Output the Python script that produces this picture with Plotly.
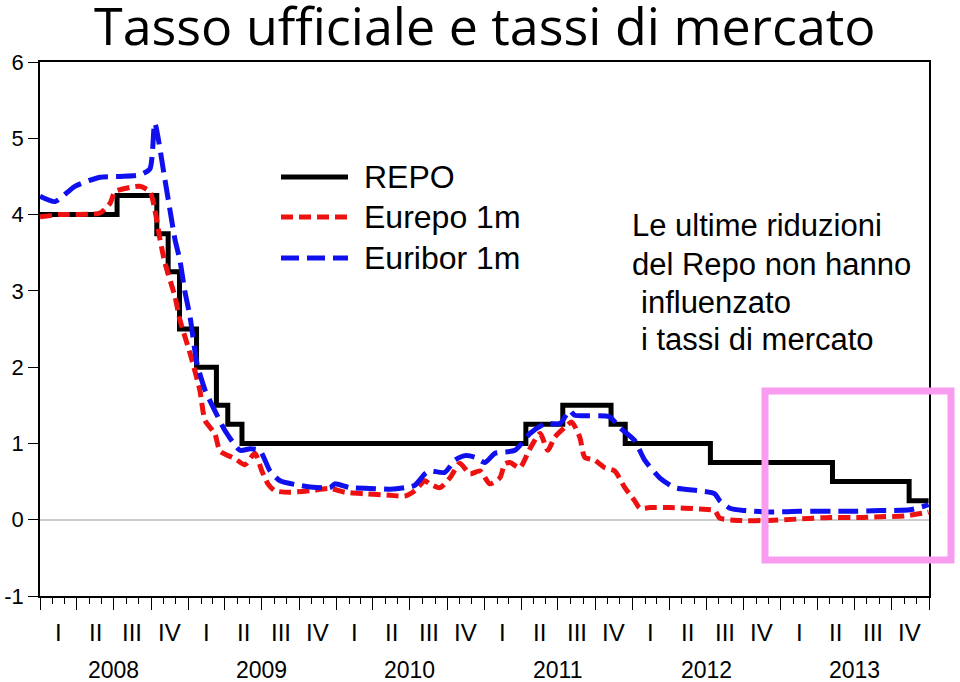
import plotly.graph_objects as go

# REPO (BCE main refinancing rate), change dates
repo_dates = ['2008-01-01', '2008-07-09', '2008-10-15', '2008-11-12', '2008-12-10',
              '2009-01-21', '2009-03-11', '2009-04-08', '2009-05-13', '2011-04-13',
              '2011-07-13', '2011-11-09', '2011-12-14', '2012-07-11', '2013-05-08',
              '2013-11-13', '2013-12-31']
repo_vals = [4.00, 4.25, 3.75, 3.25, 2.50, 2.00, 1.50, 1.25, 1.00, 1.25,
             1.50, 1.25, 1.00, 0.75, 0.50, 0.25, 0.25]

# Eurepo 1m
eurepo_dates = ['2008-01-01', '2008-02-19', '2008-05-28', '2008-06-22', '2008-07-04',
                '2008-09-03', '2008-09-28', '2008-10-10', '2008-10-23', '2008-11-04',
                '2008-11-29', '2008-12-11', '2009-01-05', '2009-01-29', '2009-02-11',
                '2009-03-07', '2009-03-20', '2009-04-26', '2009-05-20', '2009-06-14',
                '2009-07-01', '2009-07-16', '2009-08-02', '2009-09-08', '2009-10-28',
                '2009-12-16', '2010-01-22', '2010-03-12', '2010-05-13', '2010-06-19',
                '2010-07-13', '2010-08-07', '2010-08-19', '2010-09-13', '2010-10-08',
                '2010-11-01', '2010-11-26', '2010-12-21', '2011-01-14', '2011-02-08',
                '2011-02-20', '2011-03-05', '2011-03-29', '2011-04-23', '2011-05-18',
                '2011-06-06', '2011-06-23', '2011-07-18', '2011-08-04', '2011-08-24',
                '2011-09-05', '2011-09-30', '2011-10-25', '2011-11-18', '2011-12-13',
                '2012-01-06', '2012-01-19', '2012-02-13', '2012-04-02', '2012-06-15',
                '2012-07-22', '2012-08-03', '2012-09-22', '2012-12-04', '2013-02-16',
                '2013-05-01', '2013-07-15', '2013-09-02', '2013-11-02', '2013-12-22',
                '2013-12-31']
eurepo_vals = [3.97, 4.00, 4.02, 4.15, 4.30,
               4.37, 4.30, 4.07, 3.67, 3.37,
               2.92, 2.62, 2.18, 1.70, 1.30,
               1.13, 0.90, 0.80, 0.72, 0.87,
               0.64, 0.47, 0.38, 0.36, 0.38,
               0.41, 0.36, 0.34, 0.32, 0.31,
               0.38, 0.51, 0.47, 0.42, 0.55,
               0.74, 0.60, 0.64, 0.47, 0.55,
               0.73, 0.75, 0.68, 0.93, 1.13,
               0.91, 1.08, 1.21, 1.28, 1.08,
               0.82, 0.78, 0.68, 0.64, 0.42,
               0.25, 0.15, 0.16, 0.16, 0.14,
               0.12, 0.02, -0.01, -0.01, 0.01,
               0.03, 0.03, 0.04, 0.05, 0.09,
               0.10]

# Euribor 1m
euribor_dates = ['2008-01-01', '2008-02-07', '2008-03-27', '2008-05-28', '2008-07-16',
                 '2008-09-03', '2008-09-28', '2008-10-10', '2008-11-04', '2008-11-29',
                 '2008-12-11', '2008-12-23', '2009-01-05', '2009-01-22', '2009-02-11',
                 '2009-03-07', '2009-04-01', '2009-05-08', '2009-06-02', '2009-06-26',
                 '2009-07-21', '2009-08-15', '2009-10-03', '2009-10-28', '2009-12-16',
                 '2009-12-28', '2010-02-03', '2010-03-24', '2010-05-13', '2010-06-19',
                 '2010-07-13', '2010-08-07', '2010-08-19', '2010-09-25', '2010-10-20',
                 '2010-11-14', '2010-12-08', '2011-01-02', '2011-01-27', '2011-03-17',
                 '2011-04-23', '2011-05-30', '2011-07-06', '2011-07-30', '2011-08-11',
                 '2011-11-05', '2011-11-30', '2012-01-06', '2012-01-31', '2012-03-08',
                 '2012-04-14', '2012-06-15', '2012-07-22', '2012-08-03', '2012-08-28',
                 '2012-10-04', '2012-12-04', '2013-02-16', '2013-06-20', '2013-09-02',
                 '2013-11-15', '2013-12-22', '2013-12-31']
euribor_vals = [4.24, 4.17, 4.37, 4.49, 4.50,
                4.52, 4.60, 5.20, 4.46, 3.67,
                3.40, 3.00, 2.66, 2.05, 1.70,
                1.43, 1.17, 0.91, 0.93, 0.91,
                0.64, 0.51, 0.45, 0.43, 0.42,
                0.47, 0.42, 0.41, 0.40, 0.42,
                0.45, 0.60, 0.64, 0.62, 0.78,
                0.84, 0.82, 0.75, 0.87, 0.91,
                1.13, 1.26, 1.26, 1.43, 1.37,
                1.35, 1.21, 1.04, 0.78, 0.55,
                0.42, 0.38, 0.34, 0.25, 0.15,
                0.12, 0.10, 0.11, 0.11, 0.12,
                0.13, 0.18, 0.20]

years = [2008, 2009, 2010, 2011, 2012, 2013]
quarter_labels = ['I', 'II', 'III', 'IV']
quarter_starts = ['01', '04', '07', '10']
quarter_mids = ['02-15', '05-16', '08-16', '11-15']

y_ticks = [-1, 0, 1, 2, 3, 4, 5, 6]
y_ticktext = ['-1', '0', '1', '2', '3', '4', '5', '6']

legend_names = ['REPO', 'Eurepo 1m', 'Euribor 1m']
note_lines = ['Le ultime riduzioni', 'del Repo non hanno', 'influenzato', 'i tassi di mercato']

FONT = 'Liberation Sans, Arial, sans-serif'

# plot area in pixels: x 40..929, y 62..596
def px(x):
    return (x - 40) / 889.0

def py(y):
    return (596 - y) / 534.0

fig = go.Figure()

fig.add_trace(go.Scatter(x=repo_dates, y=repo_vals, mode='lines', line_shape='hv',
                         line=dict(color='black', width=5), name=legend_names[0]))
fig.add_trace(go.Scatter(x=eurepo_dates, y=eurepo_vals, mode='lines', line_shape='spline',
                         line=dict(color='#ee1111', width=5, dash='12px,6px', smoothing=0.6),
                         name=legend_names[1]))
fig.add_trace(go.Scatter(x=euribor_dates, y=euribor_vals, mode='lines', line_shape='spline',
                         line=dict(color='#1010ee', width=5, dash='20px,8px', smoothing=0.6),
                         name=legend_names[2]))

# quarter boundaries for the long ticks
q_bounds = [f'{y}-{m}-01' for y in years for m in quarter_starts] + ['2014-01-01']

fig.update_layout(
    width=960, height=682,
    margin=dict(l=40, r=31, t=62, b=86, autoexpand=False),
    paper_bgcolor='white', plot_bgcolor='white',
    showlegend=False,
    font=dict(family=FONT, color='black'),
    xaxis=dict(range=['2008-01-01', '2014-01-01'], showgrid=False, zeroline=False,
               automargin=False,
               showline=True, linecolor='black', linewidth=1.5, mirror=True,
               tickmode='array', tickvals=q_bounds, showticklabels=False,
               ticks='outside', ticklen=12, tickwidth=1.2, tickcolor='black',
               minor=dict(dtick='M1', tick0='2008-01-01', ticks='outside', ticklen=6,
                          tickwidth=1.2, tickcolor='black', showgrid=False)),
    yaxis=dict(range=[-1, 6], tickmode='array', tickvals=y_ticks, ticktext=y_ticktext,
               showgrid=False, automargin=False,
               zeroline=True, zerolinecolor='#cccccc', zerolinewidth=1.5,
               showline=True, linecolor='black', linewidth=1.5, mirror=True,
               ticks='outside', ticklen=10, tickwidth=1.2, tickcolor='black',
               tickfont=dict(size=22, family=FONT)),
)

# quarter and year labels below the axis
for yr in years:
    for q, mid in zip(quarter_labels, quarter_mids):
        fig.add_annotation(x=f'{yr}-{mid}', y=py(632), xref='x', yref='paper', text=q,
                           showarrow=False, font=dict(size=24, family=FONT), yanchor='middle')
    fig.add_annotation(x=f'{yr}-07-01', y=py(670), xref='x', yref='paper', text=str(yr),
                       showarrow=False, font=dict(size=23, family=FONT), yanchor='middle')

# title
fig.add_annotation(x=px(485), y=py(24), xref='paper', yref='paper',
                   text='Tasso ufficiale e tassi di mercato', showarrow=False,
                   font=dict(size=52, family='Open Sans, sans-serif'),
                   xanchor='center', yanchor='middle')

# hand-made legend
leg_y = [177, 217, 258]
leg_styles = [dict(color='black', width=5, dash='solid'),
              dict(color='#ee1111', width=5, dash='12px,6px'),
              dict(color='#1010ee', width=5, dash='18px,8px')]
for name, ly, st in zip(legend_names, leg_y, leg_styles):
    fig.add_shape(type='line', xref='paper', yref='paper', x0=px(281), x1=px(348),
                  y0=py(ly), y1=py(ly), line=st)
    fig.add_annotation(x=px(362), y=py(ly), xref='paper', yref='paper', text=name,
                       showarrow=False, xanchor='left', yanchor='middle',
                       font=dict(size=32, family=FONT))

# note text
note_x = [630, 630, 639, 639]
note_y = [226, 264, 302, 340]
for line, nx, ny in zip(note_lines, note_x, note_y):
    fig.add_annotation(x=px(nx), y=py(ny), xref='paper', yref='paper', text=line,
                       showarrow=False, xanchor='left', yanchor='middle',
                       font=dict(size=31, family=FONT))

# pink highlight box
fig.add_shape(type='rect', xref='paper', yref='paper', x0=px(765), x1=px(951),
              y0=py(560), y1=py(391), line=dict(color='#f79cf0', width=7),
              fillcolor='rgba(0,0,0,0)')

fig.write_html('out.html', config={'displayModeBar': False},
               post_script="document.body.style.margin='0';")
